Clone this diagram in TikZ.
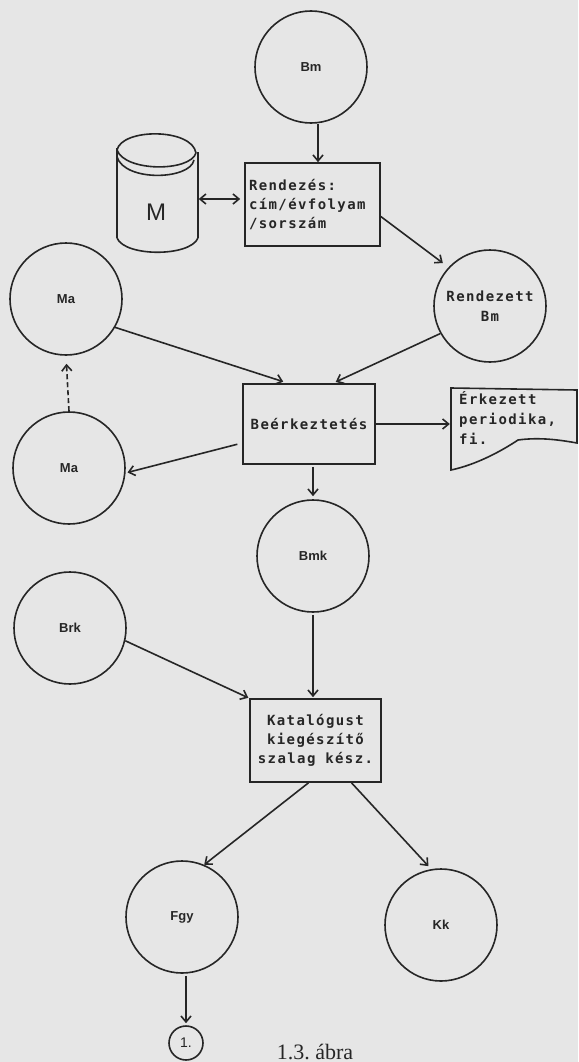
\documentclass[tikz,border=0pt]{standalone}
\usepackage{fontspec}
\setmainfont{Liberation Serif}
\newfontfamily\stencil[LetterSpace=10]{DejaVu Sans Mono}
\newfontfamily\lblfont{Liberation Sans}
\usetikzlibrary{arrows.meta}
\definecolor{ink}{HTML}{262626}
\definecolor{paper}{HTML}{E6E6E6}
\tikzset{
  circ/.style={circle, draw=ink, line width=1.6pt, minimum size=112pt, inner sep=0pt,
    text=ink, font=\lblfont\bfseries\fontsize{13}{15}\selectfont},
  procbox/.style={rectangle, draw=ink, line width=1.6pt, inner sep=0pt, text=ink,
    font=\stencil\bfseries\fontsize{14}{19}\selectfont},
  stxt/.style={text=ink, inner sep=0pt, font=\stencil\bfseries\fontsize{14}{20}\selectfont},
  arr/.style={draw=ink, line width=1.6pt, -{Straight Barb[length=6pt,width=10pt]}},
  arrtwo/.style={draw=ink, line width=1.6pt, {Straight Barb[length=6pt,width=10pt]}-{Straight Barb[length=6pt,width=10pt]}},
  shape line/.style={draw=ink, line width=1.6pt}
}
\begin{document}
\begin{tikzpicture}[x=1pt,y=-1pt]
\fill[paper] (0,0) rectangle (578,1062);
\useasboundingbox (0,0) rectangle (578,1062);

% circles
\node[circ] (bm) at (311,67) {Bm};
\node[circ, font=\stencil\bfseries\fontsize{14}{20}\selectfont, align=center] (rbm) at (490,306) {Rendezett\\Bm};
\node[circ] (ma1) at (66,299) {Ma};
\node[circ] (ma2) at (69,468) {Ma};
\node[circ] (bmk) at (313,556) {Bmk};
\node[circ] (brk) at (70,628) {Brk};
\node[circ] (fgy) at (182,917) {Fgy};
\node[circ] (kk) at (441,925) {Kk};
\node[circle, draw=ink, line width=1.6pt, minimum size=34pt, inner sep=0pt, text=ink,
  font=\lblfont\fontsize{14}{16}\selectfont] (one) at (186,1043) {1.};

% process boxes
\node[procbox, minimum width=135pt, minimum height=83pt, text width=127pt, align=left]
  (rend) at (312.5,204.5) {Rendezés:\\cím/évfolyam\\/sorszám};
\node[procbox, minimum width=132pt, minimum height=80pt] (beer) at (309,424) {Beérkeztetés};
\node[procbox, minimum width=131pt, minimum height=83pt, align=center]
  (kat) at (315.5,740.5) {Katalógust\\kiegészítő\\szalag kész.};

% cylinder (store M)
\node[minimum width=81pt, minimum height=120pt, inner sep=0pt] (mdb) at (157,199) {};
\draw[shape line] (117,150) .. controls (122,128) and (192,128) .. (196,153);
\draw[shape line] (117,150) .. controls (125,172) and (190,172) .. (196,153);
\draw[shape line] (117,157) .. controls (125,182) and (190,180) .. (194,160);
\draw[shape line] (117,148) -- (117,238);
\draw[shape line] (198,152) -- (198,238);
\draw[shape line] (117,238) .. controls (125,257) and (190,257) .. (198,238);
\node[text=ink, font=\lblfont\fontsize{24}{26}\selectfont] (mlbl) at (156,212) {M};

% document
\node[minimum width=125pt, minimum height=82pt, inner sep=0pt] (doc) at (513.5,429) {};
\draw[shape line] (451,388) -- (577,390) -- (577,443)
  .. controls (560,440) and (540,437) .. (518,440)
  .. controls (500,452) and (475,465) .. (451,470) -- cycle;
\node[stxt, anchor=north west, align=left] (doctxt) at (459,391) {Érkezett\\periodika,\\fi.};

% connectors
\draw[arr] ([xshift=7pt]bm.south) -- ([xshift=7pt]bm.south |- rend.north);
\draw[arrtwo, shorten <=1pt, shorten >=4pt] (mdb.east) -- (mdb.east -| rend.west);
\draw[arr, shorten >=7pt] ([yshift=-12pt]rend.east) -- (rbm.137);
\draw[arr, shorten >=5pt] (ma1.-30) -- ([xshift=-21pt]beer.north);
\draw[arr, shorten >=3pt] (rbm.209) -- ([xshift=24pt]beer.north);
\draw[arr, shorten >=1pt] (beer.east) -- (beer.east -| doc.west);
\draw[arr, shorten <=5pt, shorten >=2pt] ([yshift=-19pt]beer.west) -- (ma2.-5);
\draw[arr, dash pattern=on 5pt off 3pt, shorten >=8pt] (ma2.north) -- (ma1.south);
\draw[arr, shorten <=2pt, shorten >=3pt] (beer.south -| bmk.north) -- (bmk.north);
\draw[arr, shorten <=2pt, shorten >=1pt] (bmk.south) -- (bmk.south |- kat.north);
\draw[arr, shorten >=1pt] (brk.-13) -- (kat.north west);
\draw[arr] ([xshift=-7pt]kat.south) -- (fgy.67);
\draw[arr, shorten >=4pt] ([xshift=36pt]kat.south) -- (kk.100);
\draw[arr, shorten <=2pt, shorten >=2pt] (fgy.south -| one.north) -- (one.north);

% caption
\node[anchor=base, text=ink, font=\fontsize{22}{24}\selectfont] (cap) at (315,1059) {1.3.\ ábra};
\end{tikzpicture}
\end{document}
